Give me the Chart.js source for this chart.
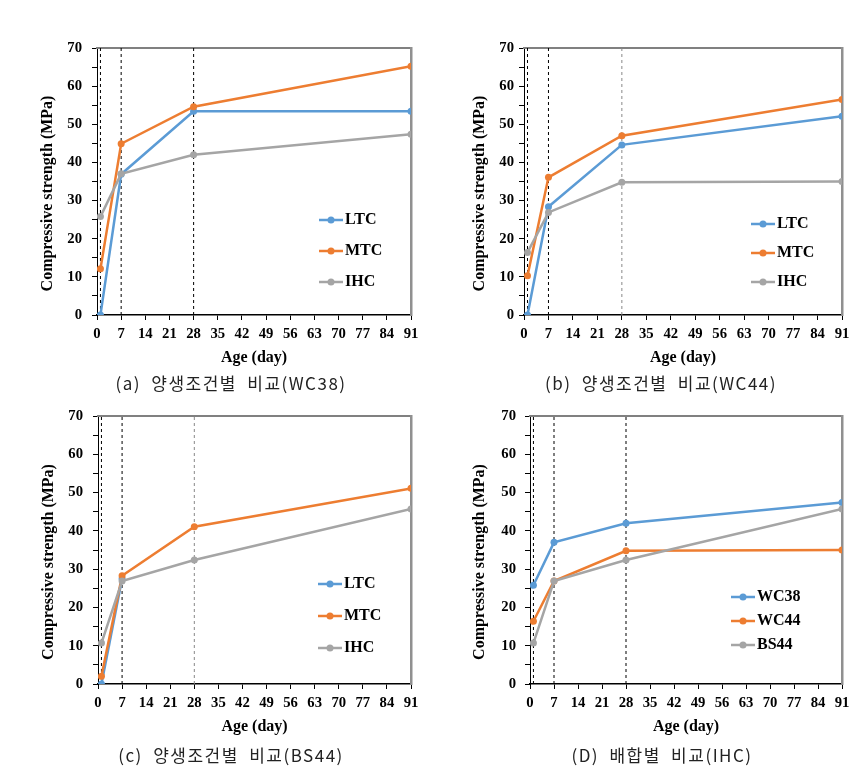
<!DOCTYPE html>
<html><head><meta charset="utf-8">
<script src="https://cdn.jsdelivr.net/npm/chart.js@4.4.1/dist/chart.umd.min.js"></script>
<style>
html,body{margin:0;padding:0;background:#fff;}
#wrap{position:relative;width:867px;height:771px;overflow:hidden;background:#fff;}
canvas{position:absolute;}
.cap{position:absolute;text-align:center;font-family:"Noto Sans CJK KR";font-size:17px;line-height:20px;color:#222;white-space:pre;letter-spacing:1.5px;word-spacing:5px;z-index:2;}
</style></head><body>
<div id="wrap">
<canvas id="cA" width="433" height="372" style="left:0;top:0"></canvas>
<canvas id="cB" width="434" height="372" style="left:433px;top:0"></canvas>
<canvas id="cC" width="433" height="372" style="left:0;top:372px"></canvas>
<canvas id="cD" width="434" height="372" style="left:433px;top:372px"></canvas>
<div class="cap" style="left:0;top:373px;width:462px">(a) 양생조건별 비교(WC38)</div>
<div class="cap" style="left:433px;top:373px;width:456px">(b) 양생조건별 비교(WC44)</div>
<div class="cap" style="left:0;top:745px;width:462px">(c) 양생조건별 비교(BS44)</div>
<div class="cap" style="left:433px;top:745px;width:458px">(D) 배합별 비교(IHC)</div>
</div>
<script>
// ---- data ----
const ages = [1, 7, 28, 91];
const guideAges = [1, 7, 28];
const xTickValues = [0, 7, 14, 21, 28, 35, 42, 49, 56, 63, 70, 77, 84, 91];
const yTickValues = [0, 10, 20, 30, 40, 50, 60, 70];

const LTC_WC38 = [0, 36.9, 53.4, 53.4];
const MTC_WC38 = [12.1, 44.9, 54.6, 65.2];
const IHC_WC38 = [25.8, 37.0, 42.0, 47.4];

const LTC_WC44 = [0, 28.4, 44.6, 52.1];
const MTC_WC44 = [10.3, 36.1, 47.0, 56.5];
const IHC_WC44 = [16.4, 26.9, 34.8, 35.0];

const LTC_BS44 = [0, 27.5, null, null];
const MTC_BS44 = [2.0, 28.3, 41.1, 51.1];
const IHC_BS44 = [10.7, 26.9, 32.4, 45.7];

const curingNames = ['LTC', 'MTC', 'IHC'];
const mixNames = ['WC38', 'WC44', 'BS44'];
const xTitle = 'Age (day)';
const yTitle = 'Compressive strength (MPa)';

// ---- styles ----
const COLORS = ['#5B9BD5', '#ED7D31', '#A5A5A5'];
const SERIF = "'Liberation Serif', 'Times New Roman', serif";

function legendIcon(color) {
  const c = document.createElement('canvas');
  c.width = 36; c.height = 10;
  const g = c.getContext('2d');
  g.strokeStyle = color; g.lineWidth = 2.5;
  g.beginPath(); g.moveTo(12, 5); g.lineTo(36, 5); g.stroke();
  g.fillStyle = color;
  g.beginPath(); g.arc(24, 5, 3.5, 0, Math.PI * 2); g.fill();
  return c;
}

const moveLegend = {
  id: 'moveLegend',
  afterLayout(chart, args, opts) {
    const lg = chart.legend;
    if (!lg) return;
    lg.left = opts.x; lg.top = opts.y;
    lg.right = opts.x + lg.width; lg.bottom = opts.y + lg.height;
  }
};

function makeChart(cfg) {
  const datasets = [];
  cfg.names.forEach((n, i) => {
    datasets.push({
      label: n,
      data: ages.map((a, k) => ({x: a, y: cfg.series[i][k]})),
      borderColor: COLORS[i], backgroundColor: COLORS[i],
      pointBackgroundColor: COLORS[i], pointBorderColor: COLORS[i],
      borderWidth: 2.5, pointRadius: 3.5, pointBorderWidth: 0,
      tension: 0, order: 10 - i, spanGaps: false
    });
  });
  guideAges.forEach((a, i) => {
    datasets.push({
      label: 'guide' + a, isGuide: true,
      data: [{x: a, y: 0}, {x: a, y: 70}],
      borderColor: cfg.guides[i], borderWidth: 1, borderDash: [3, 3],
      pointRadius: 0, order: 100
    });
  });
  return new Chart(document.getElementById(cfg.id), {
    type: 'line',
    data: {datasets},
    plugins: [moveLegend],
    options: {
      responsive: false, animation: false, devicePixelRatio: 1,
      layout: {padding: {top: cfg.pad.top, right: cfg.pad.right, left: 0, bottom: 0}},
      plugins: {
        tooltip: {enabled: false},
        moveLegend: cfg.legend,
        legend: {
          display: true, position: 'chartArea', align: 'start',
          labels: {
            usePointStyle: true, pointStyleWidth: 24, padding: cfg.legend.pad,
            font: {family: SERIF, weight: 'bold', size: 16}, color: '#000',
            generateLabels: (chart) => chart.data.datasets
              .map((ds, i) => ({text: ds.label, pointStyle: legendIcon(ds.borderColor),
                fillStyle: ds.borderColor, strokeStyle: ds.borderColor, lineWidth: 0,
                hidden: false, datasetIndex: i, fontColor: '#000', textAlign: 'left', guide: !!ds.isGuide}))
              .filter(l => !l.guide)
          }
        }
      },
      scales: {
        x: {
          type: 'linear', position: 'bottom', min: 0, max: 91,
          afterFit: (s) => { s.height = cfg.xH; },
          ticks: {stepSize: 7, autoSkip: false, maxRotation: 0, padding: cfg.xLabPad, color: '#000',
            font: {family: SERIF, weight: 'bold', size: 14.7},
            callback: (v) => xTickValues.includes(v) ? String(v) : ''},
          grid: {drawOnChartArea: false, drawTicks: true, tickLength: 5, color: '#000', lineWidth: 1},
          border: {display: true, color: '#000', width: 1.5},
          title: {display: true, text: xTitle, color: '#000',
            font: {family: SERIF, weight: 'bold', size: 16}, padding: {top: 0, bottom: cfg.xTitlePad}}
        },
        y: {
          type: 'linear', position: 'left', min: 0, max: 70,
          afterFit: (s) => { s.width = cfg.yW; },
          ticks: {stepSize: 5, autoSkip: false, padding: cfg.yLabPad, color: '#000',
            font: {family: SERIF, weight: 'bold', size: 14.7},
            callback: (v) => yTickValues.includes(v) ? String(v) : ''},
          grid: {drawOnChartArea: false, drawTicks: true, tickLength: 5, color: '#000', lineWidth: 1},
          border: {display: true, color: '#000', width: 1},
          title: {display: true, text: yTitle + '\u00a0\u00a0\u00a0\u00a0\u00a0\u00a0', color: '#000',
            font: {family: SERIF, weight: 'bold', size: 16}, padding: {top: cfg.yTitlePad, bottom: 0}}
        },
        x2: {
          type: 'linear', position: 'top', min: 0, max: 91,
          afterFit: (s) => { s.height = 0; },
          ticks: {display: false},
          grid: {display: true, drawOnChartArea: false, drawTicks: false, color: 'rgba(0,0,0,0)'},
          border: {display: true, color: '#808080', width: 2}
        },
        y2: {
          type: 'linear', position: 'right', min: 0, max: 70,
          afterFit: (s) => { s.width = 0; },
          ticks: {display: false},
          grid: {display: true, drawOnChartArea: false, drawTicks: false, color: 'rgba(0,0,0,0)'},
          border: {display: true, color: '#909090', width: 2.5}
        }
      }
    }
  });
}

makeChart({id: 'cA', names: curingNames, series: [LTC_WC38, MTC_WC38, IHC_WC38],
  pad: {top: 48, right: 22}, yW: 97, xH: 57, yLabPad: 10, xLabPad: 5, yTitlePad: 38, xTitlePad: 5,
  legend: {x: 298, y: 197, pad: 15}, guides: ['#000', '#000', '#000']});
makeChart({id: 'cB', names: curingNames, series: [LTC_WC44, MTC_WC44, IHC_WC44],
  pad: {top: 48, right: 25}, yW: 91, xH: 57, yLabPad: 5, xLabPad: 5, yTitlePad: 37, xTitlePad: 5,
  legend: {x: 299, y: 203, pad: 13}, guides: ['#000', '#000', '#888']});
makeChart({id: 'cC', names: curingNames, series: [LTC_BS44, MTC_BS44, IHC_BS44],
  pad: {top: 44, right: 22}, yW: 98, xH: 60, yLabPad: 10, xLabPad: 5, yTitlePad: 39, xTitlePad: 8,
  legend: {x: 296, y: 188, pad: 16}, guides: ['#000', '#000', '#888']});
makeChart({id: 'cD', names: mixNames, series: [IHC_WC38, IHC_WC44, IHC_BS44],
  pad: {top: 44, right: 25}, yW: 97, xH: 60, yLabPad: 9, xLabPad: 5, yTitlePad: 37, xTitlePad: 8,
  legend: {x: 284, y: 209, pad: 8}, guides: ['#000', '#000', '#000']});
</script>
</body></html>
